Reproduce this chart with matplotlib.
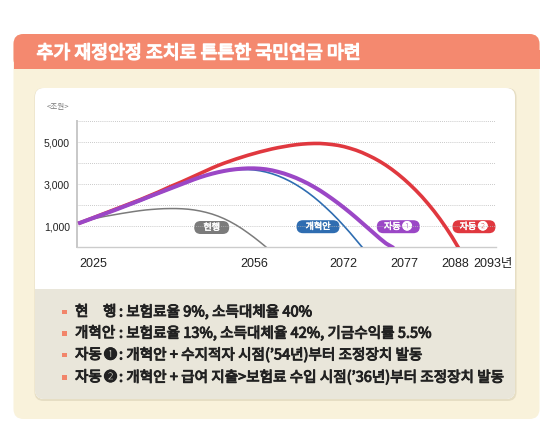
import matplotlib
matplotlib.use('Agg')
import matplotlib.pyplot as plt
import matplotlib.patheffects as pe
from matplotlib.patches import FancyBboxPatch, Rectangle
from matplotlib.transforms import ScaledTranslation, blended_transform_factory

plt.rcParams['font.family'] = ['Noto Sans CJK KR', 'DejaVu Sans']

# 기금 적립금 (조원), 연도별 값을 그림에서 읽음
# 현행: 2025~2056
years_now = list(range(2025, 2057))
fund_now = [1150, 1240, 1320, 1390, 1450, 1500, 1550, 1600, 1645, 1690, 1730, 1765, 1790, 1810, 1825, 1830,
            1830, 1820, 1800, 1765, 1715, 1650, 1570, 1470, 1350, 1210, 1050, 870, 670, 460, 235, 0]

# 개혁안: 2025~2072
years_reform = list(range(2025, 2073))
fund_reform = [1150, 1250, 1350, 1450, 1550, 1650, 1755, 1860, 1965, 2070, 2180, 2295, 2410, 2525, 2640, 2755,
               2870, 2985, 3095, 3200, 3300, 3390, 3470, 3540, 3600, 3645, 3675, 3690, 3690, 3670, 3630, 3570,
               3490, 3390, 3270, 3130, 2970, 2790, 2590, 2370, 2130, 1870, 1600, 1310, 1000, 680, 340, 0]

# 자동 1: 2025~2077
years_auto1 = list(range(2025, 2078))
fund_auto1 = [1150, 1255, 1360, 1465, 1570, 1675, 1780, 1890, 2000, 2110, 2220, 2335, 2450, 2560, 2670, 2780,
              2890, 3000, 3110, 3220, 3320, 3410, 3490, 3560, 3620, 3670, 3705, 3730, 3745, 3745, 3730, 3700,
              3650, 3580, 3500, 3400, 3290, 3160, 3020, 2860, 2690, 2500, 2300, 2090, 1870, 1640, 1400, 1150,
              900, 650, 400, 170, 0]

# 자동 2: 2025~2088
years_auto2 = list(range(2025, 2089))
fund_auto2 = [1150, 1260, 1370, 1480, 1590, 1700, 1810, 1920, 2030, 2140, 2250, 2370, 2490, 2610, 2740, 2870,
              2990, 3110, 3240, 3370, 3500, 3630, 3760, 3880, 3990, 4090, 4190, 4280, 4370, 4450, 4530, 4600,
              4670, 4730, 4780, 4830, 4870, 4900, 4920, 4930, 4930, 4910, 4880, 4840, 4780, 4700, 4610, 4500,
              4370, 4230, 4070, 3890, 3690, 3470, 3230, 2970, 2690, 2390, 2060, 1710, 1330, 920, 480, 0]

tick_years = [2025, 2056, 2072, 2077, 2088, 2093]
tick_labels = ['2025', '2056', '2072', '2077', '2088', '2093년']
y_ticks = [1000, 2000, 3000, 4000, 5000, 6000]
y_labels = ['1,000', '', '3,000', '', '5,000', '']

title = '추가 재정안정 조치로 튼튼한 국민연금 마련'
legend_keys = ['현행', '개혁안', '자동', '자동']
legend_marks = ['', '', '❶', '❷']
legend_texts = [': 보험료율 9%, 소득대체율 40%',
                ': 보험료율 13%, 소득대체율 42%, 기금수익률 5.5%',
                ': 개혁안 + 수지적자 시점(’54년)부터 조정장치 발동',
                ': 개혁안 + 급여 지출>보험료 수입 시점(’36년)부터 조정장치 발동']

c_gray = '#7b7b7b'
c_blue = '#2f6db1'
c_purple = '#9b47c6'
c_red = '#e0383f'
c_text = '#222222'


def bold(col, w=0.7):
    # installed CJK font has no bold face, so thicken strokes
    return [pe.withStroke(linewidth=w, foreground=col)]


def bold_soft(col):
    # for circled digits: thicken without closing the counter
    return [pe.PathPatchEffect(offset=(0.3, 0), facecolor=col, edgecolor='none'), pe.Normal()]


fig = plt.figure(figsize=(5.58, 4.29), dpi=100)
fig.patch.set_facecolor('white')

# background panels in pixel coordinates
bg = fig.add_axes([0, 0, 1, 1], zorder=0)
bg.set_xlim(0, 558)
bg.set_ylim(429, 0)
bg.axis('off')

bg.add_patch(FancyBboxPatch((13.5, 34), 526, 385, boxstyle='round,pad=0,rounding_size=10',
                            fc='#f9f2db', ec='none'))
bg.add_patch(FancyBboxPatch((13.5, 34), 526, 35, boxstyle='round,pad=0,rounding_size=10',
                            fc='#f4896f', ec='none'))
bg.add_patch(Rectangle((13.5, 50), 526, 19, fc='#f4896f', ec='none'))
bg.text(36.5, 53.5, title, color='white', fontsize=13.2, ha='left', va='center',
        path_effects=bold('white', 1.0))

# card shadow, card, legend box
bg.add_patch(FancyBboxPatch((34.5, 88), 482, 313, boxstyle='round,pad=0,rounding_size=9',
                            fc='#e6dec4', ec='none'))
bg.add_patch(FancyBboxPatch((35, 88), 480, 311, boxstyle='round,pad=0,rounding_size=9',
                            fc='white', ec='none'))
bg.add_patch(FancyBboxPatch((35, 289), 480, 110, boxstyle='round,pad=0,rounding_size=9',
                            fc='#e9e6da', ec='none'))
bg.add_patch(Rectangle((35, 289), 480, 12, fc='#e9e6da', ec='none'))

bg.text(58.3, 107, '<조원>', fontsize=5.5, color='#777777', ha='center', va='center')

# series tags
tags = [('현행', '', c_gray, 211.7, 227.5, 35),
        ('개혁안', '', c_blue, 318, 226.7, 43),
        ('자동', '❶', c_purple, 398.3, 226.7, 43),
        ('자동', '❷', c_red, 474, 226.7, 43)]
for s, mark, col, cx, cy, w in tags:
    bg.add_patch(FancyBboxPatch((cx - w / 2, cy - 6.5), w, 13, boxstyle='round,pad=0,rounding_size=6.5',
                                fc=col, ec='none'))
    if mark:
        bg.text(cx + 2.2, cy, s, color='white', fontsize=6.5, ha='right', va='center',
                path_effects=bold('white', 0.4))
        bg.text(cx + 8.6, cy, mark, color='white', fontsize=7.4, ha='center', va='center',
                path_effects=bold_soft('white'))
    else:
        bg.text(cx, cy, s, color='white', fontsize=6.5, ha='center', va='center',
                path_effects=bold('white', 0.4))

# legend lines
legend_y = [312, 333.3, 355, 377.3]
fs = 10.5
for key, mark, txt, y in zip(legend_keys, legend_marks, legend_texts, legend_y):
    bg.add_patch(Rectangle((62, y - 2.3), 4.6, 4.6, fc='#f2856a', ec='none'))
    if key == '현행':
        bg.text(75, y, '현', fontsize=fs, color=c_text, ha='left', va='center', path_effects=bold(c_text))
        bg.text(103, y, '행', fontsize=fs, color=c_text, ha='left', va='center', path_effects=bold(c_text))
    else:
        bg.text(75, y, key, fontsize=fs, color=c_text, ha='left', va='center', path_effects=bold(c_text))
    if mark:
        bg.text(110.3, y, mark, fontsize=10, color=c_text, ha='center', va='center',
                path_effects=bold_soft(c_text))
    bg.text(119, y, txt, fontsize=fs, color=c_text, ha='left', va='center', path_effects=bold(c_text))

# chart
ax = fig.add_axes([77 / 558, (429 - 247) / 429, (496 - 77) / 558, (247 - 121) / 429], zorder=1)
ax.set_facecolor('none')
ax.plot(years_now, fund_now, color=c_gray, lw=1.1, zorder=2)
ax.plot(years_reform, fund_reform, color=c_blue, lw=1.2, zorder=3)
ax.plot(years_auto2, fund_auto2, color=c_red, lw=2.6, zorder=4)
ax.plot(years_auto1, fund_auto1, color=c_purple, lw=2.9, zorder=5)

ax.set_xlim(2024.5, 2094.33)
ax.set_ylim(0, 6000)
ax.set_yticks(y_ticks)
ax.set_yticklabels(y_labels, fontsize=7.6, family=['Liberation Sans', 'DejaVu Sans'], color=c_text)
ax.tick_params(axis='y', length=0, pad=5)
ax.set_xticks([])
ax.yaxis.grid(True, color='#b8b8b8', lw=0.6, linestyle=(0, (1, 1.5)))
ax.set_axisbelow(True)
for sp in ['top', 'right']:
    ax.spines[sp].set_visible(False)
ax.spines['left'].set_color('#c8c8c8')
ax.spines['left'].set_linewidth(1.4)
ax.spines['bottom'].set_color('#cccccc')
ax.spines['bottom'].set_linewidth(1.0)

# year labels under the axis
label_dx = [13, -12, -19, 12, -3, 5]
base = blended_transform_factory(ax.transData, ax.transAxes)
for yr, lab, dx in zip(tick_years, tick_labels, label_dx):
    tr = base + ScaledTranslation(dx / 100, -20 / 100, fig.dpi_scale_trans)
    ax.text(yr, 0, lab, transform=tr, ha='center', va='baseline', fontsize=9,
            family=['Liberation Sans', 'Noto Sans CJK KR'], color=c_text, clip_on=False)

fig.savefig('out.png', dpi=100)
